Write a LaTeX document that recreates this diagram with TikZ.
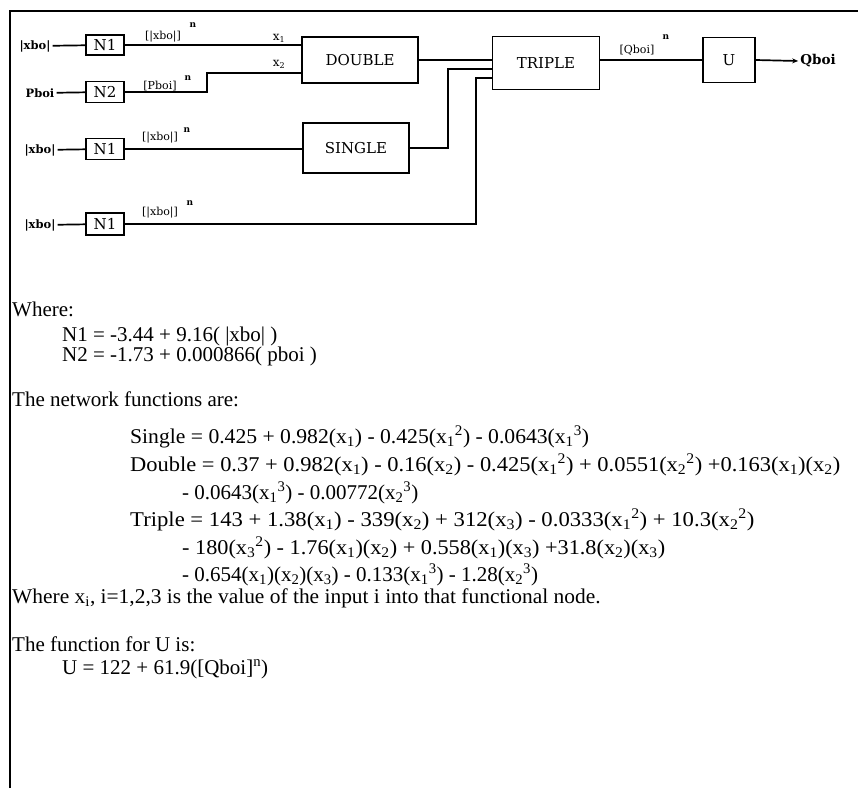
\documentclass[tikz,border=0pt]{standalone}
\usepackage{fontspec}
\setmainfont{Liberation Serif}
\newfontfamily\diafont{DejaVu Serif}
\usetikzlibrary{arrows.meta}
\newcommand{\sbs}[1]{\textsubscript{#1}}
\newcommand{\sps}[1]{\textsuperscript{#1}}
\begin{document}
\begin{tikzpicture}[x=1pt,y=-1pt,
  blk/.style={draw,line width=1.7pt,inner sep=0pt,font=\diafont\fontsize{15}{15}\selectfont},
  wire/.style={line width=1.7pt},
  inl/.style={inner sep=2pt,font=\diafont\bfseries\fontsize{11.5}{11.5}\selectfont},
  lab/.style={inner sep=0pt,font=\diafont\fontsize{11}{11}\selectfont},
  sup/.style={inner sep=0pt,font=\diafont\bfseries\fontsize{9}{9}\selectfont},
  txt/.style={anchor=base west,inner sep=0pt,font=\fontsize{21}{21}\selectfont},
  frame/.style={line width=2.4pt}]
\useasboundingbox (0,0) rectangle (858,788);
% frame
\draw[frame] (10,788) -- (10,11) -- (858,11);
% boxes
\node[blk,minimum width=38pt,minimum height=20pt] (n1a) at (105,45) {N1};
\node[blk,minimum width=38pt,minimum height=21pt] (n2) at (105,92) {N2};
\node[blk,minimum width=38pt,minimum height=21pt] (n1b) at (105,149) {N1};
\node[blk,minimum width=38pt,minimum height=22pt] (n1c) at (105,224) {N1};
\node[blk,minimum width=116pt,minimum height=46pt] (dbl) at (360,60) {DOUBLE};
\node[blk,minimum width=106pt,minimum height=50pt] (sgl) at (356,148) {SINGLE};
\node[blk,minimum width=107pt,minimum height=53pt] (trp) at (546,63) {TRIPLE};
\node[blk,minimum width=52pt,minimum height=45pt] (u) at (729,60) {U};
% inputs / outputs
\node[inl] (i1) at (35,46) {|xbo|};
\node[inl] (i2) at (40,93) {Pboi};
\node[inl] (i3) at (40,150) {|xbo|};
\node[inl] (i4) at (40,225) {|xbo|};
\node[inl,font=\diafont\bfseries\fontsize{13.5}{13.5}\selectfont] (qo) at (818,61) {Qboi};
% junctions
\coordinate (j2) at (207,73);
\coordinate (j3) at (448,69);
\coordinate (j4) at (476,78);
% wires
\draw[wire] (i1) -- (n1a);
\draw[wire] (i2) -- (n2);
\draw[wire] (i3) -- (n1b);
\draw[wire] (i4) -- (n1c);
\draw[wire] (n1a) -- (dbl.west |- n1a);
\draw[wire] (n2.east) -| (j2) -- (dbl.west |- j2);
\draw[wire] (n1b) -- (sgl.west |- n1b);
\draw[wire] (dbl.east) -- (trp.west |- dbl.east);
\draw[wire] (sgl.east) -| (j3) -- (trp.west |- j3);
\draw[wire] (n1c.east) -| (j4) -- (trp.west |- j4);
\draw[wire] (trp.east |- u.west) -- (u.west);
\draw[wire,-{Stealth[length=6pt,width=5pt]}] (u.east) -- (qo.west);
% wire labels
\node[lab] (l1) at (163,37) {[|xbo|]};
\node[sup] (s1) at (193,25) {n};
\node[lab] (l2) at (160,86) {[Pboi]};
\node[sup] (s2) at (188,78) {n};
\node[lab] (l3) at (160,138) {[|xbo|]};
\node[sup] (s3) at (187,130) {n};
\node[lab] (l4) at (160,213) {[|xbo|]};
\node[sup] (s4) at (190,203) {n};
\node[lab] (l5) at (637,50) {[Qboi]};
\node[sup] (s5) at (666,37) {n};
\node[lab,font=\diafont\fontsize{12}{12}\selectfont] (x1) at (279,38) {x\sbs{1}};
\node[lab,font=\diafont\fontsize{12}{12}\selectfont] (x2) at (279,64) {x\sbs{2}};
% text
\node[txt] (t1) at (12,316) {Where:};
\node[txt] (t2) at (62,341) {N1 = -3.44 + 9.16( |xbo| )};
\node[txt] (t3) at (62,361) {N2 = -1.73 + 0.000866( pboi )};
\node[txt] (t4) at (12,406) {The network functions are:};
\node[txt] (t5) at (130,443) {\scalebox{1.03}[1]{Single = 0.425 + 0.982(x\sbs{1}) - 0.425(x\sbs{1}\sps{2}) - 0.0643(x\sbs{1}\sps{3})}};
\node[txt] (t6) at (130,471) {\scalebox{1.07}[1]{Double = 0.37 + 0.982(x\sbs{1}) - 0.16(x\sbs{2}) - 0.425(x\sbs{1}\sps{2}) + 0.0551(x\sbs{2}\sps{2}) +0.163(x\sbs{1})(x\sbs{2})}};
\node[txt] (t7) at (182,499) {- 0.0643(x\sbs{1}\sps{3}) - 0.00772(x\sbs{2}\sps{3})};
\node[txt] (t8) at (130,526) {\scalebox{1.08}[1]{Triple = 143 + 1.38(x\sbs{1}) - 339(x\sbs{2}) + 312(x\sbs{3}) - 0.0333(x\sbs{1}\sps{2}) + 10.3(x\sbs{2}\sps{2})}};
\node[txt] (t9) at (182,554) {\scalebox{1.06}[1]{- 180(x\sbs{3}\sps{2}) - 1.76(x\sbs{1})(x\sbs{2}) + 0.558(x\sbs{1})(x\sbs{3}) +31.8(x\sbs{2})(x\sbs{3})}};
\node[txt] (t10) at (182,581) {- 0.654(x\sbs{1})(x\sbs{2})(x\sbs{3}) - 0.133(x\sbs{1}\sps{3}) - 1.28(x\sbs{2}\sps{3})};
\node[txt] (t11) at (12,603) {\scalebox{1.02}[1]{Where x\sbs{i}, i=1,2,3 is the value of the input i into that functional node.}};
\node[txt] (t12) at (12,651) {The function for U is:};
\node[txt] (t13) at (62,674) {U = 122 + 61.9([Qboi]\sps{n})};
\end{tikzpicture}
\end{document}
